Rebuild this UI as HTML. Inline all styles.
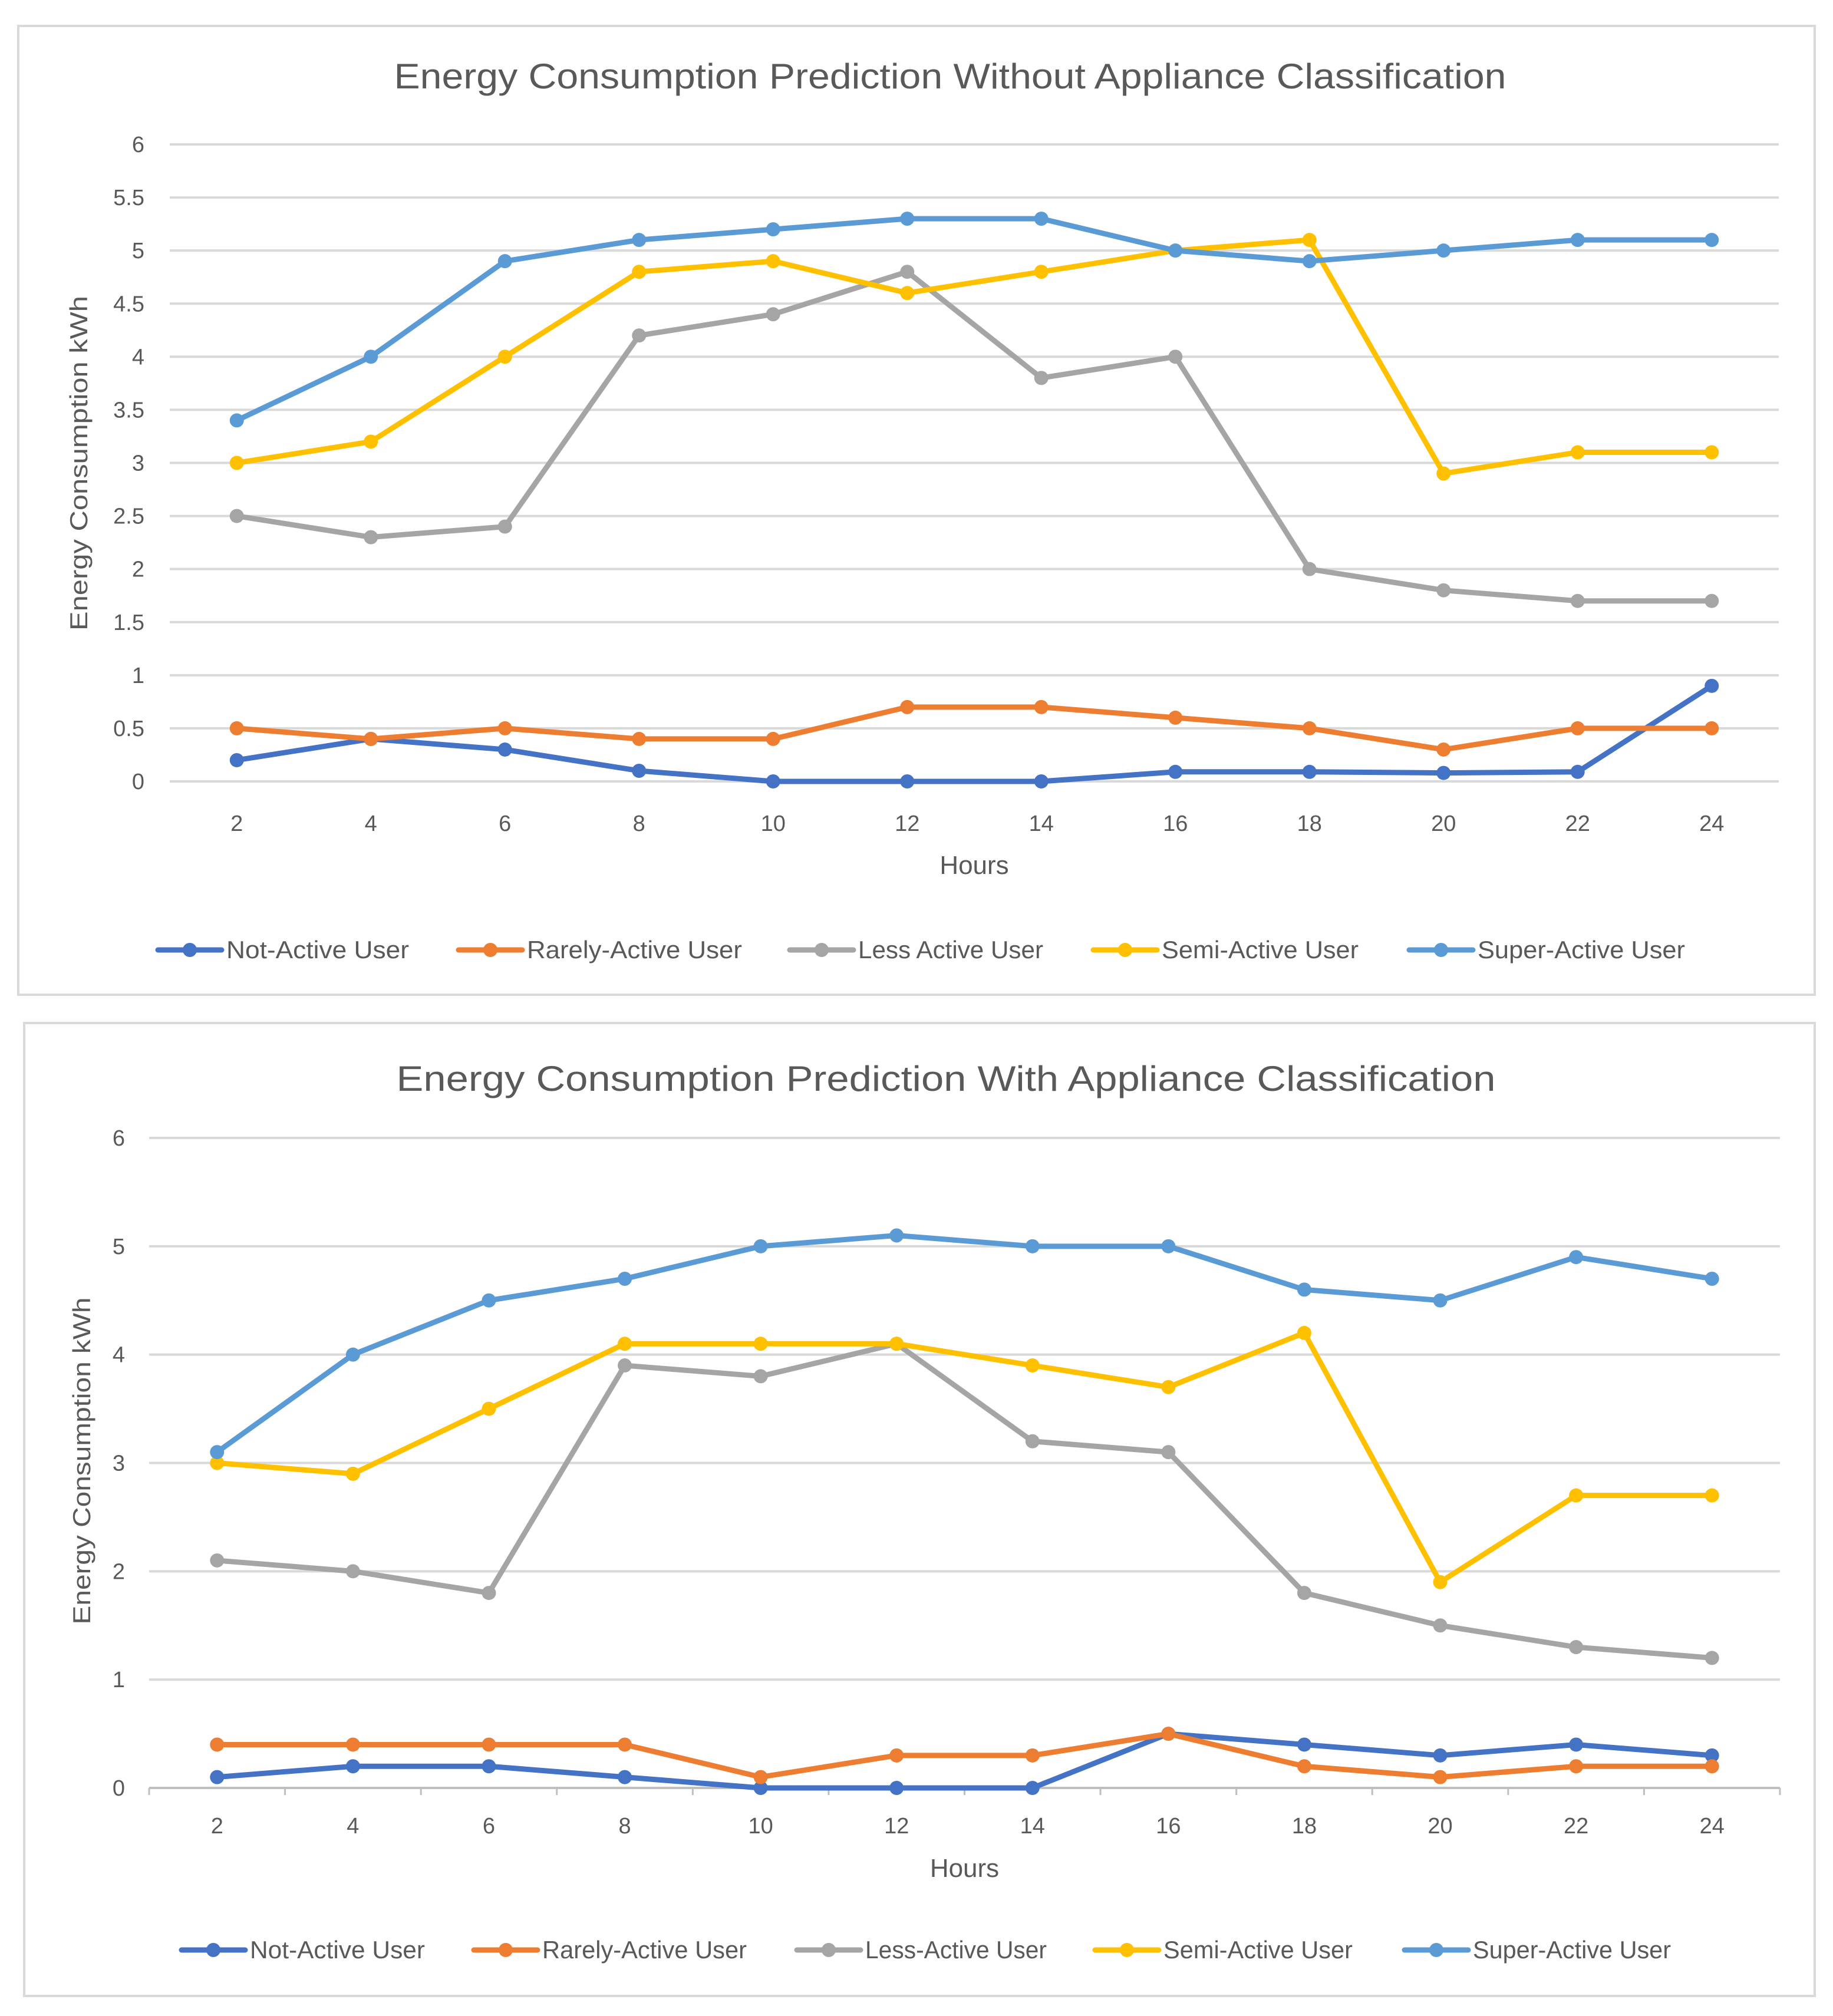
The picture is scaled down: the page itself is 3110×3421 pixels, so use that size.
<!DOCTYPE html>
<html><head><meta charset="utf-8"><style>
html,body{margin:0;padding:0;background:#fff;}
svg{display:block;font-family:"Liberation Sans",sans-serif;}
</style></head><body>
<svg id="s" width="3110" height="3421" xmlns="http://www.w3.org/2000/svg"></svg>
<script>
const hours = [2,4,6,8,10,12,14,16,18,20,22,24];
const seriesNames1 = ["Not-Active User","Rarely-Active User","Less Active User","Semi-Active User","Super-Active User"];
const seriesNames2 = ["Not-Active User","Rarely-Active User","Less-Active User","Semi-Active User","Super-Active User"];
const yTicks1 = [0,0.5,1,1.5,2,2.5,3,3.5,4,4.5,5,5.5,6];
const yTicks2 = [0,1,2,3,4,5,6];
const c1Not = [0.2,0.4,0.3,0.1,0,0,0,0.09,0.09,0.08,0.09,0.9];
const c1Rarely = [0.5,0.4,0.5,0.4,0.4,0.7,0.7,0.6,0.5,0.3,0.5,0.5];
const c1Less = [2.5,2.3,2.4,4.2,4.4,4.8,3.8,4.0,2.0,1.8,1.7,1.7];
const c1Semi = [3,3.2,4,4.8,4.9,4.6,4.8,5,5.1,2.9,3.1,3.1];
const c1Super = [3.4,4,4.9,5.1,5.2,5.3,5.3,5,4.9,5,5.1,5.1];
const c2Not = [0.1,0.2,0.2,0.1,0,0,0,0.5,0.4,0.3,0.4,0.3];
const c2Rarely = [0.4,0.4,0.4,0.4,0.1,0.3,0.3,0.5,0.2,0.1,0.2,0.2];
const c2Less = [2.1,2,1.8,3.9,3.8,4.1,3.2,3.1,1.8,1.5,1.3,1.2];
const c2Semi = [3,2.9,3.5,4.1,4.1,4.1,3.9,3.7,4.2,1.9,2.7,2.7];
const c2Super = [3.1,4,4.5,4.7,5,5.1,5,5,4.6,4.5,4.9,4.7];

const colors = ["#4472C4","#ED7D31","#A5A5A5","#FFC000","#5B9BD5"];
const NS = "http://www.w3.org/2000/svg";
const svg = document.getElementById('s');
function mk(tag, attrs, parent){const e=document.createElementNS(NS,tag);for(const k in attrs)e.setAttribute(k,attrs[k]);(parent||svg).appendChild(e);return e;}

function chart(cfg){
  const g = mk('g',{});
  
  
  const fr = mk('rect',{x:cfg.frame[0],y:cfg.frame[1],width:cfg.frame[2],height:cfg.frame[3],fill:'#fff',stroke:'#d9d9d9','stroke-width':4},g);
  
  
  const t = mk('text',{x:cfg.titleX,y:cfg.titleY,'font-size':60,fill:'#595959','text-anchor':'middle',textLength:cfg.titleW,lengthAdjust:'spacingAndGlyphs'},g);
  t.textContent = cfg.title;
  
  
  const x0=cfg.plot[0], x1=cfg.plot[1], yb=cfg.plot[2], yt=cfg.plot[3];
  const band=(x1-x0)/hours.length;
  const xs=i=>x0+band*(i+0.5);
  const ys=v=>yb-(v-0)/(6-0)*(yb-yt);
  cfg.ticks.forEach(v=>{
    const l=mk('line',{x1:x0,x2:x1,y1:ys(v),y2:ys(v),stroke:'#d9d9d9','stroke-width':4},g);
    
    
    const tx=mk('text',{x:cfg.yLabX,y:ys(v)+13,'font-size':38,fill:'#595959','text-anchor':'end'},g);
    tx.textContent=String(v);
    
    
  });
  if(cfg.axisTicks){
    const ax=mk('line',{x1:x0,x2:x1,y1:yb,y2:yb,stroke:'#bfbfbf','stroke-width':4},g);
    
    
    for(let i=0;i<=hours.length;i++){
      const tk=mk('line',{x1:x0+band*i,x2:x0+band*i,y1:yb,y2:yb+12,stroke:'#bfbfbf','stroke-width':3},g);
      
      
    }
  }
  hours.forEach((h,i)=>{
    const tx=mk('text',{x:xs(i),y:cfg.xLabY,'font-size':38,fill:'#595959','text-anchor':'middle'},g);
    tx.textContent=String(h);
    
    
  });
  const xt=mk('text',{x:(x0+x1)/2,y:cfg.hoursY,'font-size':44,fill:'#595959','text-anchor':'middle'},g);
  xt.textContent='Hours';
  
  
  const yt2=mk('text',{x:0,y:0,'font-size':42,fill:'#595959','text-anchor':'middle',transform:`translate(${cfg.yTitle[0]},${cfg.yTitle[1]}) rotate(-90)`,textLength:cfg.yTitle[2],lengthAdjust:'spacingAndGlyphs'},g);
  yt2.textContent='Energy Consumption kWh';
  
  
  cfg.data.forEach((arr,si)=>{
    const sg=mk('g',{},g);
    
    
    const pts=arr.map((v,i)=>xs(i)+','+ys(v)).join(' ');
    const pl=mk('polyline',{points:pts,fill:'none',stroke:colors[si],'stroke-width':9,'stroke-linejoin':'round','stroke-linecap':'round'},sg);
    
    
    arr.forEach((v,i)=>{
      const c=mk('circle',{cx:xs(i),cy:ys(v),r:12,fill:colors[si]},sg);
      
      
    });
  });
  cfg.names.forEach((n,si)=>{
    const lg=mk('g',{},g);
    
    
    const lx=cfg.legX[si], ly=cfg.legY;
    mk('line',{x1:lx,x2:lx+cfg.legLen,y1:ly,y2:ly,stroke:colors[si],'stroke-width':9,'stroke-linecap':'round'},lg);
    mk('circle',{cx:lx+cfg.legLen/2,cy:ly,r:12,fill:colors[si]},lg);
    const tx=mk('text',{x:lx+cfg.legLen+8,y:ly+14,'font-size':42,fill:'#595959',textLength:cfg.legW[si],lengthAdjust:'spacingAndGlyphs'},lg);
    tx.textContent=n;
  });
}

chart({name:'chart-without-classification',frame:[31,44,3048,1644],title:'Energy Consumption Prediction Without Appliance Classification',titleX:1612,titleY:150,titleW:1887,
  plot:[288,3018,1326,245],ticks:yTicks1,yLabX:245,xLabY:1410,hoursY:1483,yTitle:[148,786,568],axisTicks:false,
  data:[c1Not,c1Rarely,c1Less,c1Semi,c1Super],names:seriesNames1,
  legX:[268,778,1340,1855,2391],legY:1612,legLen:108,legW:[310,365,314,334,352]});
chart({name:'chart-with-classification',frame:[41,1736,3038,1651],title:'Energy Consumption Prediction With Appliance Classification',titleX:1605,titleY:1851,titleW:1865,
  plot:[253,3020,3034,1931],ticks:yTicks2,yLabX:212,xLabY:3111,hoursY:3185,yTitle:[153,2479,555],axisTicks:true,
  data:[c2Not,c2Rarely,c2Less,c2Semi,c2Super],names:seriesNames2,
  legX:[308,804,1352,1858,2383],legY:3309,legLen:108,legW:[297,347,308,321,336]});
</script>
</body></html>
